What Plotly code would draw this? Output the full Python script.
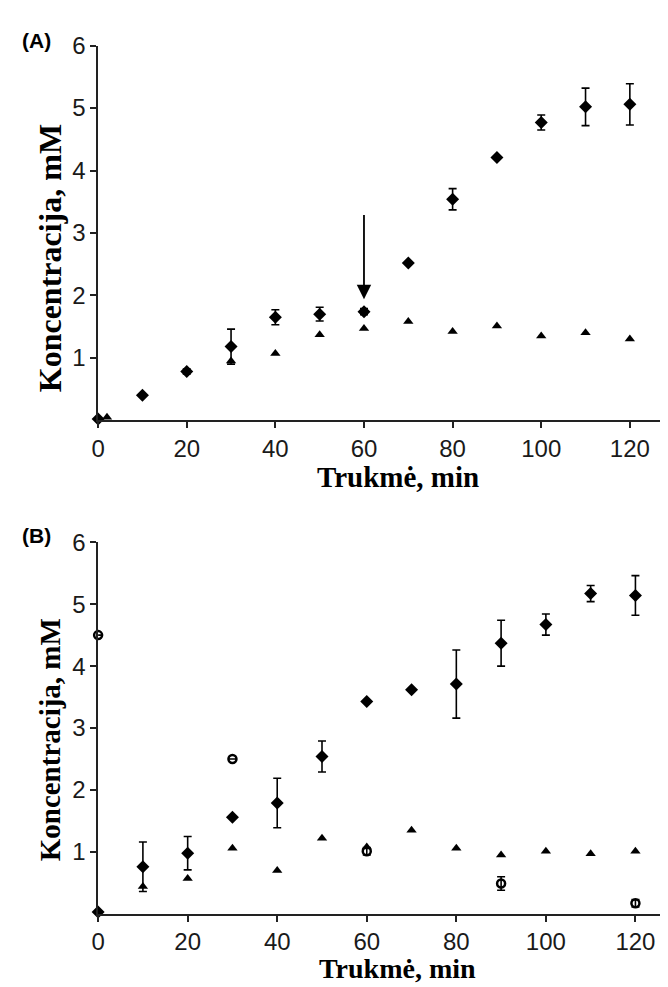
import plotly.graph_objects as go

# ---------- data ----------
# Panel A
a_diam_x = [0, 10, 20, 30, 40, 50, 60, 70, 80, 90, 100, 110, 120]
a_diam_y = [0.02, 0.40, 0.78, 1.18, 1.65, 1.70, 1.74, 2.52, 3.54, 4.21, 4.77, 5.02, 5.06]
a_diam_e = [0, 0, 0.04, 0.28, 0.12, 0.11, 0.05, 0, 0.17, 0, 0.12, 0.30, 0.33]
a_tri_x = [2, 30, 40, 50, 60, 70, 80, 90, 100, 110, 120]
a_tri_y = [0.05, 0.95, 1.07, 1.37, 1.47, 1.58, 1.42, 1.51, 1.35, 1.40, 1.30]

# Panel B
b_diam_x = [0, 10, 20, 30, 40, 50, 60, 70, 80, 90, 100, 110, 120]
b_diam_y = [0.03, 0.76, 0.98, 1.56, 1.79, 2.54, 3.43, 3.62, 3.71, 4.37, 4.67, 5.17, 5.14]
b_diam_e = [0, 0.40, 0.27, 0, 0.40, 0.25, 0, 0, 0.55, 0.37, 0.17, 0.13, 0.32]
b_tri_x = [10, 20, 30, 40, 50, 60, 70, 80, 90, 100, 110, 120]
b_tri_y = [0.44, 0.57, 1.06, 0.70, 1.22, 1.08, 1.35, 1.06, 0.95, 1.01, 0.97, 1.01]
b_circ_x = [0, 30, 60, 90, 120]
b_circ_y = [4.50, 2.50, 1.01, 0.49, 0.17]
b_circ_e = [0, 0, 0.06, 0.11, 0.06]

x_ticks = [0, 20, 40, 60, 80, 100, 120]
y_ticks = [1, 2, 3, 4, 5, 6]

arrow_x = 60
arrow_from = 3.31
arrow_to = 1.94

# ---------- figure ----------
OFF = 8  # default page margin of the html body
W, H = 668, 987

def px(x):
    return (x - OFF) / W

def py(y):
    return 1 - (y - OFF) / H

fig = go.Figure()

def err(e):
    return dict(type="data", array=e, visible=True, color="black", thickness=1.6, width=4)

diam = dict(symbol="diamond", size=10, color="black")
tri = dict(symbol="triangle-up", size=9, color="black")
circ = dict(symbol="circle-open", size=8, color="black", line=dict(width=2.5, color="black"))

# Panel A
fig.add_trace(go.Scatter(x=a_tri_x, y=a_tri_y, mode="markers", marker=tri,
                         xaxis="x", yaxis="y", cliponaxis=False, showlegend=False))
fig.add_trace(go.Scatter(x=a_diam_x, y=a_diam_y, mode="markers", marker=diam,
                         error_y=err(a_diam_e),
                         xaxis="x", yaxis="y", cliponaxis=False, showlegend=False))
# Panel B
fig.add_trace(go.Scatter(x=b_tri_x, y=b_tri_y, mode="markers", marker=tri,
                         xaxis="x2", yaxis="y2", cliponaxis=False, showlegend=False))
fig.add_trace(go.Scatter(x=b_circ_x, y=b_circ_y, mode="markers", marker=circ,
                         error_y=err(b_circ_e),
                         xaxis="x2", yaxis="y2", cliponaxis=False, showlegend=False))
fig.add_trace(go.Scatter(x=b_diam_x, y=b_diam_y, mode="markers", marker=diam,
                         error_y=err(b_diam_e),
                         xaxis="x2", yaxis="y2", cliponaxis=False, showlegend=False))

tickfont = dict(family="Liberation Sans, Arial, sans-serif", size=24, color="#1a1a1a")
axis_common = dict(showline=True, linecolor="#222", linewidth=1.6, ticks="outside",
                   ticklen=6, tickwidth=1.6, tickcolor="#222", showgrid=False,
                   zeroline=False, tickfont=tickfont)

# plot areas extend to the right edge of the visible page (668 px)
xr = px(668)
fig.update_layout(
    width=W, height=H, margin=dict(l=0, r=0, t=0, b=0),
    paper_bgcolor="white", plot_bgcolor="white",
    xaxis=dict(domain=[px(92), xr], range=[0, (668 - 92) / 4.478], tickvals=x_ticks, anchor="y", **axis_common),
    yaxis=dict(domain=[py(412), py(32)], range=[0, 6], tickvals=y_ticks, anchor="x", **axis_common),
    xaxis2=dict(domain=[px(92), xr], range=[0, (668 - 92) / 4.525], tickvals=x_ticks, anchor="y2", **axis_common),
    yaxis2=dict(domain=[py(912.7), py(535.7)], range=[0, 6], tickvals=y_ticks, anchor="x2", **axis_common),
)

title_font = dict(family="Liberation Serif, Times New Roman, serif", size=29, color="black")
label_font = dict(family="Liberation Sans, Arial, sans-serif", size=21, color="black")

ann = []
for yc, fs in ((470, 29), (968, 28)):
    ann.append(dict(text="<b>Trukmė, min</b>", x=px(395), y=py(yc), xref="paper", yref="paper",
                    showarrow=False, font=dict(title_font, size=fs), xanchor="center",
                    yanchor="middle", borderpad=0))
ann.append(dict(text="<b>Koncentracija, mM</b>", x=px(43), y=py(248), xref="paper", yref="paper",
                showarrow=False, font=dict(title_font, size=32), textangle=-90,
                xanchor="center", yanchor="middle"))
ann.append(dict(text="<b>Koncentracija, mM</b>", x=px(43), y=py(736), xref="paper", yref="paper",
                showarrow=False, font=title_font, textangle=-90,
                xanchor="center", yanchor="middle"))
ann.append(dict(text="<b>(A)</b>", x=px(30), y=py(27), xref="paper", yref="paper",
                showarrow=False, font=label_font, xanchor="center", yanchor="middle"))
ann.append(dict(text="<b>(B)</b>", x=px(30), y=py(529), xref="paper", yref="paper",
                showarrow=False, font=label_font, xanchor="center", yanchor="middle"))
ann.append(dict(x=arrow_x, y=arrow_to, ax=arrow_x, ay=arrow_from, xref="x", yref="y",
                axref="x", ayref="y", showarrow=True, arrowhead=2, arrowsize=1.6,
                arrowwidth=1.8, arrowcolor="black", text=""))
fig.update_layout(annotations=ann)

fig.write_html("out.html")
